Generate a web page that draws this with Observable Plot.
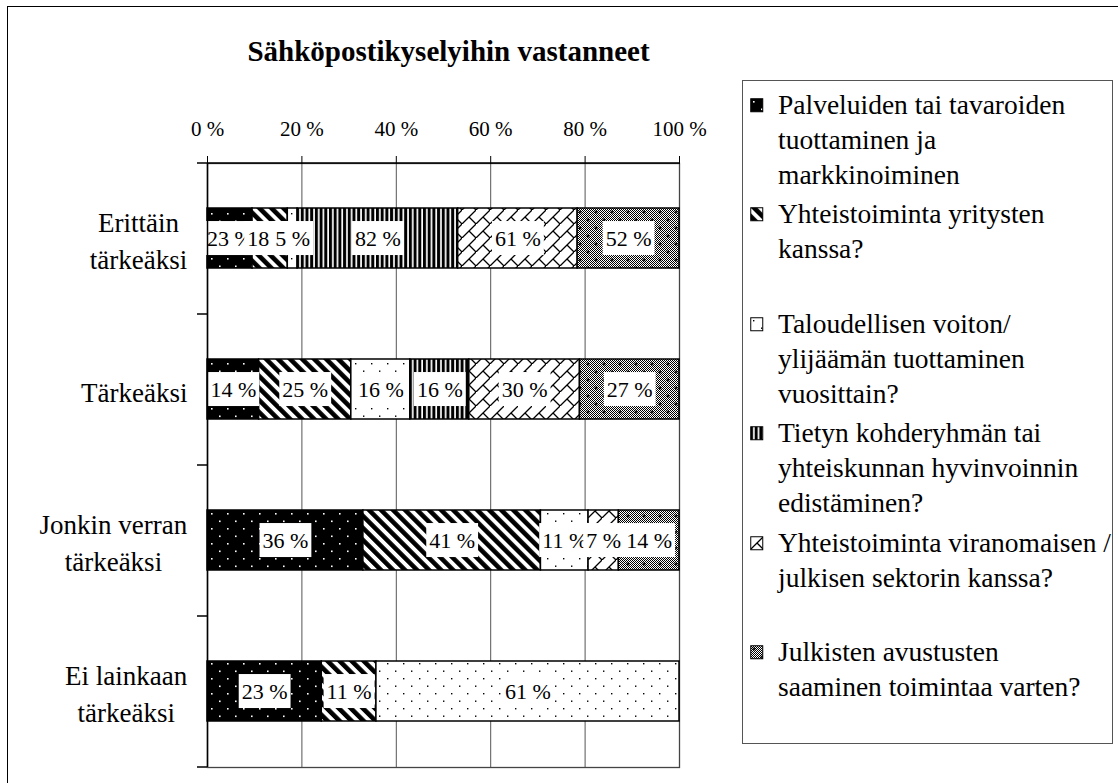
<!DOCTYPE html>
<html>
<head>
<meta charset="utf-8">
<script src="https://cdn.jsdelivr.net/npm/d3@7"></script>
<script src="https://cdn.jsdelivr.net/npm/@observablehq/plot@0.6"></script>
<style>
  html, body { margin: 0; padding: 0; background: white; }
  body { width: 1118px; height: 783px; overflow: hidden; position: relative; font-family: "Liberation Serif", "Times New Roman", serif; }
  #frame { position: absolute; left: 7px; top: 6px; width: 1300px; height: 1000px; border-left: 1.5px solid #000; border-top: 1.5px solid #000; }
  #chart { position: absolute; left: 0; top: 0; width: 740px; height: 783px; }
  #legend { position: absolute; left: 742px; top: 80px; width: 371px; height: 664px; box-sizing: border-box; border: 1.5px solid #555; background: white; }
  .entry { position: absolute; left: 0; }
  .entry svg { position: absolute; left: 7px; top: 11px; }
  .entry .lbl { position: absolute; left: 35px; top: 0; white-space: pre; font-family: "Liberation Serif", serif; font-size: 27.5px; line-height: 35px; color: #000; }
</style>
</head>
<body>
<svg width="0" height="0" style="position:absolute">
  <defs>
    <pattern id="pat0" patternUnits="userSpaceOnUse" width="16" height="15">
      <rect width="16" height="15" fill="#000"/>
      <rect x="3" y="3" width="1.6" height="1.6" fill="#fff"/>
      <rect x="11" y="10.5" width="1.6" height="1.6" fill="#fff"/>
    </pattern>
    <pattern id="pat1" patternUnits="userSpaceOnUse" width="8.5" height="8.5" patternTransform="rotate(-45)">
      <rect width="8.5" height="8.5" fill="#fff"/>
      <rect width="4.6" height="8.5" fill="#000"/>
    </pattern>
    <pattern id="pat2" patternUnits="userSpaceOnUse" width="16" height="15">
      <rect width="16" height="15" fill="#fff"/>
      <rect x="3" y="3" width="1.4" height="1.4" fill="#000"/>
      <rect x="11" y="10.5" width="1.4" height="1.4" fill="#000"/>
    </pattern>
    <pattern id="pat3" patternUnits="userSpaceOnUse" width="4.7" height="10">
      <rect width="4.7" height="10" fill="#fff"/>
      <rect width="3" height="10" fill="#000"/>
    </pattern>
    <pattern id="pat4" patternUnits="userSpaceOnUse" width="14" height="14">
      <rect width="14" height="14" fill="#fff"/>
      <path d="M-1,15 L15,-1 M7,7 L14,14" stroke="#000" stroke-width="1.3" fill="none"/>
    </pattern>
    <pattern id="chk" patternUnits="userSpaceOnUse" width="2" height="2">
      <rect width="2" height="2" fill="#fff"/>
      <rect width="1" height="1" fill="#000"/>
      <rect x="1" y="1" width="1" height="1" fill="#000"/>
    </pattern>
    <pattern id="pat5" patternUnits="userSpaceOnUse" width="16" height="16">
      <rect width="16" height="16" fill="url(#chk)"/>
      <path d="M4,2.5 V5.5 M2.5,4 H5.5 M12,10.5 V13.5 M10.5,12 H13.5" stroke="#000" stroke-width="1.2"/>
    </pattern>
  </defs>
</svg>
<div id="frame"></div>
<div id="chart"></div>
<div id="legend"></div>
<script>
// ---- data ----
const chartTitle = "Sähköpostikyselyihin vastanneet";
const categories = ["Erittäin tärkeäksi", "Tärkeäksi", "Jonkin verran tärkeäksi", "Ei lainkaan tärkeäksi"];
const categoryLines = ["Erittäin\ntärkeäksi", "Tärkeäksi", "Jonkin verran\ntärkeäksi", "Ei lainkaan\ntärkeäksi"];
const seriesNames = [
  "Palveluiden tai tavaroiden tuottaminen ja markkinoiminen",
  "Yhteistoiminta yritysten kanssa?",
  "Taloudellisen voiton/ ylijäämän tuottaminen vuosittain?",
  "Tietyn kohderyhmän tai yhteiskunnan hyvinvoinnin edistäminen?",
  "Yhteistoiminta viranomaisen / julkisen sektorin kanssa?",
  "Julkisten avustusten saaminen toimintaa varten?"
];
const legendLines = [
  "Palveluiden tai tavaroiden\ntuottaminen ja\nmarkkinoiminen",
  "Yhteistoiminta yritysten\nkanssa?",
  "Taloudellisen voiton/\nylijäämän tuottaminen\nvuosittain?",
  "Tietyn kohderyhmän tai\nyhteiskunnan hyvinvoinnin\nedistäminen?",
  "Yhteistoiminta viranomaisen /\njulkisen sektorin kanssa?",
  "Julkisten avustusten\nsaaminen toimintaa varten?"
];
// values per series, one per category (null = no answer shown)
const palvelut     = [23, 14, 36, 23];
const yritykset    = [18, 25, 41, 11];
const voitto       = [5, 16, 11, 61];
const hyvinvointi  = [82, 16, null, null];
const viranomainen = [61, 30, 7, null];
const avustukset   = [52, 27, 14, null];
const xTicks = [0, 0.2, 0.4, 0.6, 0.8, 1];
const patternUrls = ["url(#pat0)", "url(#pat1)", "url(#pat2)", "url(#pat3)", "url(#pat4)", "url(#pat5)"];

const seriesValues = [palvelut, yritykset, voitto, hyvinvointi, viranomainen, avustukset];
const data = [];
categories.forEach((c, i) => seriesValues.forEach((vals, s) => {
  if (vals[i] != null) data.push({cat: c, series: seriesNames[s], value: vals[i]});
}));

// ---- layout ----
const W = 740, H = 783;
const mTop = 163, mLeft = 207, mRight = 61, mBottom = 16;
const step = (H - mTop - mBottom) / categories.length;
const catLabel = new Map(categories.map((c, i) => [c, categoryLines[i]]));

const chart = Plot.plot({
  width: W, height: H,
  marginTop: mTop, marginLeft: mLeft, marginRight: mRight, marginBottom: mBottom,
  style: {fontFamily: "Liberation Serif, Times New Roman, serif", background: "transparent", overflow: "visible", color: "#000", maxWidth: "none"},
  x: {domain: [0, 1], axis: null, label: null},
  y: {domain: categories, paddingInner: 0.6, paddingOuter: 0.3, axis: null, label: null},
  color: {domain: seriesNames, range: patternUrls},
  marks: [
    Plot.gridX(xTicks.slice(1), {stroke: "#555", strokeOpacity: 1, strokeWidth: 1}),
    Plot.frame({stroke: "#444", strokeWidth: 1.3}),
    Plot.barX(data, Plot.stackX({x: "value", y: "cat", fill: "series", offset: "normalize", stroke: "#000", strokeWidth: 1.5})),
    Plot.text(data, Plot.stackX({x: "value", y: "cat", z: "series", offset: "normalize",
      text: d => `${d.value} %`, fontSize: 22, fill: "#000"})),
    Plot.axisX({anchor: "top", ticks: xTicks, tickFormat: d => `${Math.round(d * 100)} %`, label: null,
      tickSize: 8, tickPadding: 20, fontSize: 21, stroke: "#000", fill: "#000"}),
    Plot.ruleX([0], {stroke: "#000", strokeWidth: 1.5}),
    Plot.ruleY([categories[0]], {y: d => d, dy: -step / 2, insetLeft: -10, stroke: "#000", strokeWidth: 1.5}),
    Plot.ruleY(categories.slice(1), {y: d => d, dy: -step / 2, x1: 0, x2: 0, insetLeft: -10, stroke: "#000", strokeWidth: 1.5}),
    Plot.ruleY([categories[categories.length - 1]], {y: d => d, dy: step / 2, x1: 0, x2: 0, insetLeft: -10, stroke: "#000", strokeWidth: 1.5}),
    Plot.text(categories, {y: d => d, text: d => catLabel.get(d), frameAnchor: "left", textAnchor: "end",
      lineAnchor: "middle", dx: -20, fontSize: 27, lineHeight: 1.4, fill: "#000"}),
    Plot.text([chartTitle], {text: d => d, frameAnchor: "top", lineAnchor: "middle", dy: -112, dx: 5, fontSize: 29,
      fontWeight: "bold", fill: "#000"})
  ]
});
chart.style.position = "absolute";
chart.style.left = "0px";
chart.style.top = "0px";
chart.style.maxWidth = "none";
chart.setAttribute("width", W);
chart.setAttribute("height", H);
chart.style.width = W + "px";
chart.style.height = H + "px";
document.getElementById("chart").appendChild(chart);

// text mark groups in mark order: data labels, category labels, title
const textGroups = Array.from(chart.querySelectorAll("g")).filter(g => g.getAttribute("aria-label") === "text");
const NS = "http://www.w3.org/2000/svg";
const dl = textGroups[0];
if (dl) {
  Array.from(dl.querySelectorAll("text")).forEach(t => {
    const b = t.getBBox();
    const r = document.createElementNS(NS, "rect");
    r.setAttribute("x", b.x - 3);
    r.setAttribute("y", b.y - 4.5);
    r.setAttribute("width", b.width + 6);
    r.setAttribute("height", b.height + 9);
    r.setAttribute("fill", "#fff");
    r.setAttribute("stroke", "none");
    const tr = t.getAttribute("transform");
    if (tr) r.setAttribute("transform", tr);
    t.parentNode.insertBefore(r, t);
  });
}
// centre the lines of each category label within its right-aligned block
const cl = textGroups[1];
if (cl) {
  Array.from(cl.querySelectorAll("text")).forEach(t => {
    const b = t.getBBox();
    t.setAttribute("text-anchor", "middle");
    const tr = t.getAttribute("transform") || "";
    t.setAttribute("transform", `${tr} translate(${-(b.width / 2)},0)`);
  });
}

// ---- legend ----
const legend = document.getElementById("legend");
const slot = 109.4;
legendLines.forEach((txt, i) => {
  const e = document.createElement("div");
  e.className = "entry";
  e.style.top = (6 + i * slot) + "px";
  e.innerHTML = `<svg width="14" height="15"><rect x="0.75" y="0.75" width="12" height="13" fill="${patternUrls[i]}" stroke="#000" stroke-width="1"/></svg>`;
  const l = document.createElement("div");
  l.className = "lbl";
  l.textContent = txt;
  e.appendChild(l);
  legend.appendChild(e);
});
</script>
</body>
</html>
